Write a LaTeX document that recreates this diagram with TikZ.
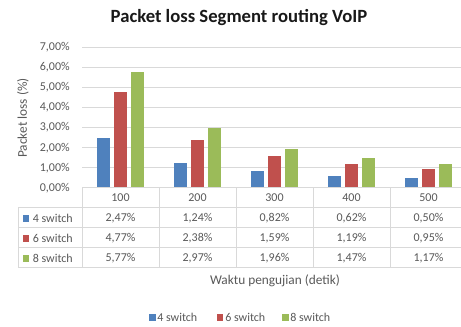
\documentclass[tikz,border=0pt]{standalone}
\usepackage{fontspec}
\setmainfont{Carlito}
\definecolor{txt}{HTML}{595959}
\definecolor{gridc}{HTML}{D9D9D9}
\definecolor{sA}{HTML}{4F81BD}
\definecolor{sB}{HTML}{C0504D}
\definecolor{sC}{HTML}{9BBB59}
\begin{document}
\begin{tikzpicture}[x=0.75pt,y=-0.75pt,
  gridline/.style={draw=gridc, line width=0.75pt},
  lbl/.style={text=txt, font=\fontsize{9}{10}\selectfont, inner sep=0pt},
  axtitle/.style={text=txt, font=\fontsize{10}{12}\selectfont, inner sep=0pt},
  swatch/.style={minimum width=5pt, minimum height=5pt, inner sep=0pt, draw=none}]
\useasboundingbox (0,0) rectangle (461,327);
\clip (0,0) rectangle (461,327);
\fill[white] (0,0) rectangle (461,327);
% title
\node[font=\bfseries\fontsize{14}{16}\selectfont, text=black!90, inner sep=0pt] (title) at (239,18) {Packet loss Segment routing VoIP};
% gridlines and tick labels
\foreach \v in {1,...,7} {
  \draw[gridline] (82,{188-\v*20.14}) -- (461,{188-\v*20.14});
}
\foreach \v in {0,...,7} {
  \node[lbl, anchor=east] (tick\v) at (70,{188-\v*20.14}) {\v,00\%};
}
% axis titles
\node[axtitle, rotate=90] (ytitle) at (23,118) {Packet loss (\%)};
\node[axtitle] (xtitle) at (275,281) {Waktu pengujian (detik)};
% bars
\foreach \i/\a/\b/\c in {0/2.47/4.77/5.77, 1/1.24/2.38/2.97, 2/0.82/1.59/1.96, 3/0.62/1.19/1.47, 4/0.50/0.95/1.17} {
  \pgfmathsetmacro\cx{120.5+77*\i}
  \fill[sA] ({\cx-23.5},188) rectangle ({\cx-10.5},{188-\a*20.14});
  \fill[sB] ({\cx-6.5},188) rectangle ({\cx+6.5},{188-\b*20.14});
  \fill[sC] ({\cx+10.5},188) rectangle ({\cx+23.5},{188-\c*20.14});
}
% data table lines
\draw[gridline] (82,188) -- (461,188);
\foreach \yy in {208,228,248,268} { \draw[gridline] (18,\yy) -- (461,\yy); }
\draw[gridline] (18,208) -- (18,268);
\foreach \xx in {82,159,236,313,390} { \draw[gridline] (\xx,188) -- (\xx,268); }
% header row and values
\foreach \i/\cat/\a/\b/\c in {0/100/{2{,}47}/{4{,}77}/{5{,}77}, 1/200/{1{,}24}/{2{,}38}/{2{,}97}, 2/300/{0{,}82}/{1{,}59}/{1{,}96}, 3/400/{0{,}62}/{1{,}19}/{1{,}47}, 4/500/{0{,}50}/{0{,}95}/{1{,}17}} {
  \pgfmathsetmacro\cx{120.5+77*\i}
  \node[lbl] (cat\i) at (\cx,198) {\cat};
  \node[lbl] (va\i) at (\cx,218) {\a\%};
  \node[lbl] (vb\i) at (\cx,238) {\b\%};
  \node[lbl] (vc\i) at (\cx,258) {\c\%};
}
% row legend keys
\node[swatch, fill=sA] (ka) at (26,218.5) {};
\node[lbl, anchor=west] (la) at (32.5,218) {4 switch};
\node[swatch, fill=sB] (kb) at (26,238.5) {};
\node[lbl, anchor=west] (lb) at (32.5,238) {6 switch};
\node[swatch, fill=sC] (kc) at (26,258.5) {};
\node[lbl, anchor=west] (lc) at (32.5,258) {8 switch};
% bottom legend
\node[swatch, fill=sA] (ga) at (152.5,317.5) {};
\node[lbl, anchor=west] (gla) at (157,317) {4 switch};
\node[swatch, fill=sB] (gb) at (220,317.5) {};
\node[lbl, anchor=west] (glb) at (225,317) {6 switch};
\node[swatch, fill=sC] (gc) at (285.5,317.5) {};
\node[lbl, anchor=west] (glc) at (290,317) {8 switch};
\end{tikzpicture}
\end{document}
